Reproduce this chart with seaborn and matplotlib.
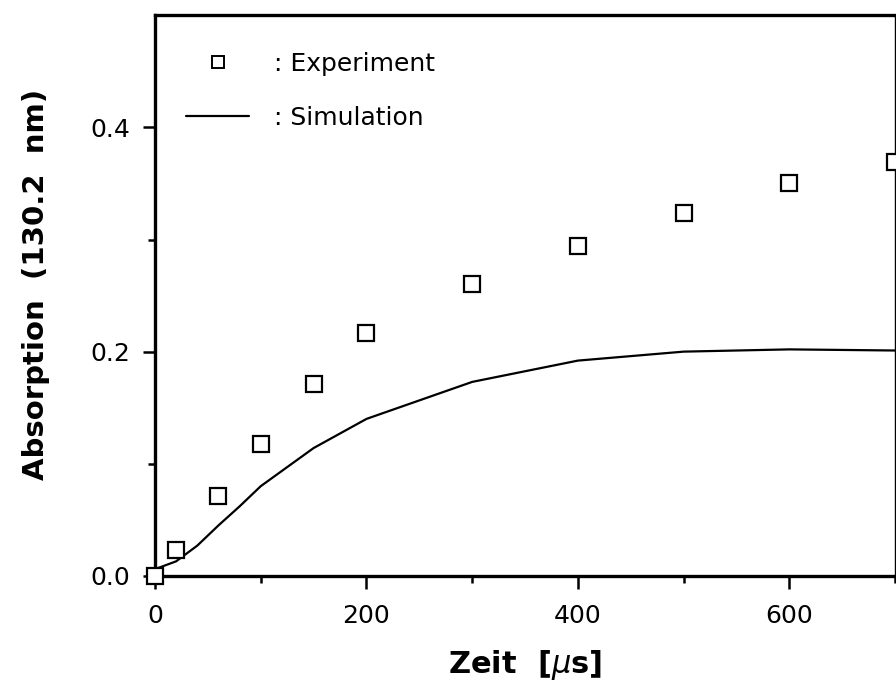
import matplotlib
matplotlib.use("Agg")
import matplotlib.pyplot as plt
from matplotlib.lines import Line2D
from matplotlib.ticker import MultipleLocator, FixedLocator
import seaborn as sns
import pandas as pd

# Measured absorption at 130.2 nm
exp_time = [0, 20, 60, 100, 150, 200, 300, 400, 500, 600, 700]
exp_abs = [0.000, 0.023, 0.071, 0.118, 0.171, 0.217, 0.260, 0.294, 0.324, 0.350, 0.369]

# Simulated absorption curve
sim_time = [0, 20, 40, 60, 80, 100, 150, 200, 300, 400, 500, 600, 700]
sim_abs = [0.006, 0.013, 0.027, 0.045, 0.062, 0.080, 0.114, 0.140, 0.173, 0.192, 0.200, 0.202, 0.201]

x_ticks = [0, 200, 400, 600]
y_ticks = [0.0, 0.2, 0.4]

sns.set_style("ticks")
plt.rcParams["font.family"] = ["DejaVu Sans"]
plt.rcParams["mathtext.fontset"] = "dejavusans"
for key in ["text.color", "axes.labelcolor", "xtick.color", "ytick.color", "axes.edgecolor"]:
    plt.rcParams[key] = "black"

exp_df = pd.DataFrame({"t": exp_time, "a": exp_abs})
sim_df = pd.DataFrame({"t": sim_time, "a": sim_abs})

fig = plt.figure(figsize=(8.96, 6.93), dpi=100)
ax = fig.add_axes([0.173, 0.169, 0.826, 0.809])

sns.lineplot(data=sim_df, x="t", y="a", ax=ax, color="black", linewidth=1.6,
             sort=False, estimator=None)
ax.plot(exp_df["t"], exp_df["a"], linestyle="none", marker="s", markersize=12,
        markerfacecolor="white", markeredgecolor="black", markeredgewidth=1.6,
        clip_on=False, zorder=5)

ax.set_xlim(0, 700)
ax.set_ylim(0, 0.5)
ax.xaxis.set_major_locator(FixedLocator(x_ticks))
ax.xaxis.set_minor_locator(MultipleLocator(100))
ax.yaxis.set_major_locator(FixedLocator(y_ticks))
ax.yaxis.set_minor_locator(FixedLocator([0.1, 0.3]))
ax.set_xticklabels([str(v) for v in x_ticks])
ax.set_yticklabels([f"{v:.1f}" for v in y_ticks])

ax.tick_params(which="major", direction="out", length=9, width=1.8,
               labelsize=18, colors="black")
ax.tick_params(axis="x", which="major", pad=11)
ax.tick_params(axis="y", which="major", pad=9)
ax.tick_params(which="minor", direction="out", length=5, width=1.8, colors="black")

for side in ["left", "bottom", "top"]:
    ax.spines[side].set_linewidth(2.4)
ax.spines["right"].set_linewidth(1.0)

ax.set_xlabel("Zeit  [$\\mu$s]", fontsize=22, fontweight="bold")
ax.set_ylabel("Absorption  (130.2  nm)", fontsize=21, fontweight="bold")
ax.xaxis.set_label_coords(0.5, -0.128)
ax.yaxis.set_label_coords(-0.142, 0.52)

handles = [
    Line2D([], [], linestyle="none", marker="s", markersize=9,
           markerfacecolor="white", markeredgecolor="black", markeredgewidth=1.4),
    Line2D([], [], color="black", linewidth=1.6),
]
ax.legend(handles, [": Experiment", ": Simulation"], loc="upper left",
          bbox_to_anchor=(0.012, 0.975), frameon=False, fontsize=18,
          handlelength=2.5, handletextpad=1.0, labelspacing=1.2)

fig.savefig("out.png", dpi=100)
